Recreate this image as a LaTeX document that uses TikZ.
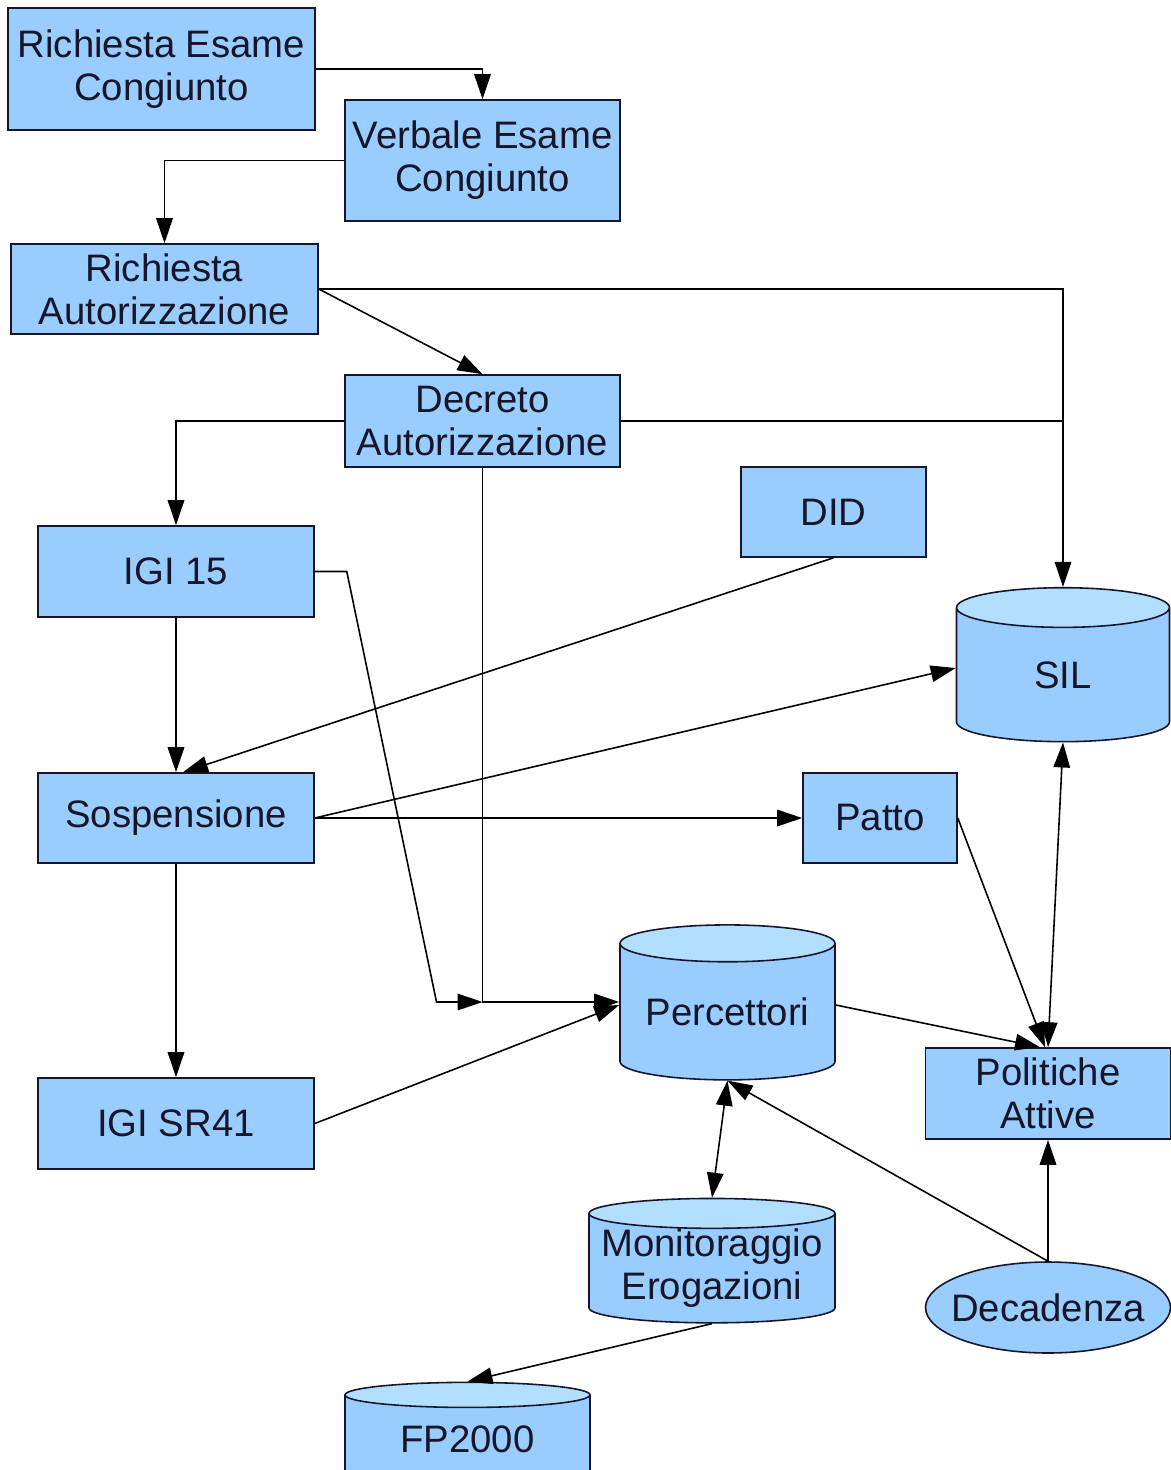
\documentclass[tikz,border=0pt]{standalone}
\usepackage{fontspec}
\setmainfont{Liberation Sans}
\usetikzlibrary{arrows.meta,shapes.geometric}
\definecolor{boxblue}{RGB}{153,204,255}
\definecolor{topblue}{RGB}{178,222,255}
\definecolor{ink}{RGB}{22,22,40}
\begin{document}
\begin{tikzpicture}[x=0.02cm, y=-0.02cm,
    every node/.style={font=\fontsize{21.8}{24.5}\selectfont, text=ink, align=center},
    box/.style={draw=ink, line width=0.9pt, fill=boxblue, inner sep=0pt},
    db/.style={cylinder, shape border rotate=90, draw=ink, line width=0.9pt,
      cylinder uses custom fill, cylinder body fill=boxblue, cylinder end fill=topblue, inner sep=0pt},
    link/.style={draw=black, line width=0.9pt},
    >={Triangle[length=0.5cm, width=0.33cm]}]
    \path[use as bounding box, fill=white] (0,0) rectangle (1170,1470);

    % boxes
    \node[box, minimum width=6.14cm, minimum height=2.44cm] (rec) at (161.5,69) {Richiesta Esame\\Congiunto};
    \node[box, minimum width=5.5cm, minimum height=2.42cm] (vec) at (482.5,160.5) {Verbale Esame\\Congiunto};
    \node[box, minimum width=6.14cm, minimum height=1.8cm] (ra) at (164.5,289) {Richiesta\\Autorizzazione};
    \node[box, minimum width=5.5cm, minimum height=1.84cm] (da) at (482.5,421) {Decreto\\Autorizzazione};
    \node[box, minimum width=5.52cm, minimum height=1.82cm] (igi15) at (176,571.5) {IGI 15};
    \node[box, minimum width=3.7cm, minimum height=1.8cm] (did) at (833.5,512) {DID};
    \node[box, minimum width=5.52cm, minimum height=1.8cm] (sosp) at (176,818) {Sospensione};
    \node[box, minimum width=3.08cm, minimum height=1.8cm] (patto) at (880,818) {Patto};
    \node[box, minimum width=5.52cm, minimum height=1.82cm] (igisr) at (176,1123.5) {IGI SR41};
    \node[box, minimum width=4.9cm, minimum height=1.82cm] (pol) at (1048,1093.5) {Politiche\\Attive};
    \node[ellipse, draw=ink, line width=0.9pt, fill=boxblue, minimum width=4.9cm, minimum height=1.82cm,
      inner sep=0pt, inner xsep=-0.25cm] (dec) at (1048,1307.5) {Decadenza};

    % archives
    \node[db, minimum width=4.26cm, minimum height=3.08cm, aspect=0.69] (sil) at (1063,675) {SIL};
    \node[db, minimum width=4.3cm, minimum height=3.1cm, aspect=0.225] (perc) at (727.5,1012) {Percettori};
    \node[db, minimum width=4.92cm, minimum height=2.44cm, aspect=0.135] (mon) at (712,1268.5) {Monitoraggio\\Erogazioni};
    \node[db, minimum width=4.9cm, minimum height=2.0cm, aspect=0.187] (fp) at (467.5,1439) {FP2000};

    % connectors
    \draw[link, ->] (rec.east) -| (vec.north);
    \draw[link, ->] (vec.west) -| (ra.north);
    \draw[link, ->] (ra.east) -- (da.north);
    \draw[link, ->] (ra.east) -| (sil.north);
    \draw[link] (da.east) -- (da.east -| sil.north);
    \draw[link, ->] (da.west) -| (igi15.north);
    \coordinate (pin) at ([yshift=0.2cm]perc.west);
    \coordinate (merge) at (da.south |- pin);
    \draw[link, ->] (da.south) |- (pin);
    \draw[link, ->] (igi15.east) -- ++(32,0) -- ([xshift=-0.92cm]merge) -- (merge);
    \draw[link, ->] (igi15.south) -- (sosp.north);
    \draw[link, ->] (did.south) -- ([xshift=0.14cm]sosp.north);
    \draw[link, ->] (sosp.east) -- ([yshift=0.14cm]sil.west);
    \draw[link, ->] (sosp.east) -- (patto.west);
    \draw[link, ->] (sosp.south) -- (igisr.north);
    \draw[link, ->] (igisr.east) -- ([yshift=0.14cm]perc.west);
    \draw[link, ->] ([yshift=0.14cm]perc.east) -- ([xshift=-0.16cm]pol.north);
    \draw[link, ->] (patto.east) -- ([xshift=-0.06cm]pol.north);
    \draw[link, <->] (sil.south) -- (pol.north);
    \draw[link, <->] (perc.south) -- (mon.north);
    \draw[link, ->] (dec.north) -- (pol.south);
    \draw[link, ->] (dec.north) -- (perc.south);
    \draw[link, ->] (mon.south) -- (fp.north);
\end{tikzpicture}
\end{document}
